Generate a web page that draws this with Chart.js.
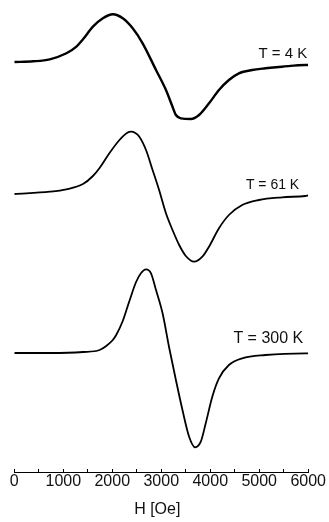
<!DOCTYPE html>
<html>
<head>
<meta charset="utf-8">
<script src="https://cdn.jsdelivr.net/npm/chart.js@4/dist/chart.umd.min.js"></script>
<style>
  html, body { margin: 0; padding: 0; background: #ffffff; }
  #wrap { position: relative; width: 329px; height: 522px; }
</style>
</head>
<body>
<div id="wrap"><canvas id="c" width="329" height="522"></canvas></div>
<script>
// Magnetic field H [Oe] and EPR derivative signal (arbitrary units) for three temperatures
const h4 = [0, 386, 725, 1064, 1268, 1402, 1605, 1808, 2011, 2214, 2417, 2620, 2893, 3096, 3230, 3299, 3400, 3604, 3772, 3975, 4178, 4381, 4585, 4855, 5127, 5464, 5939, 6000];
const s4 = [0, 0.7, 2.7, 8.7, 15.3, 22.7, 35.3, 43.7, 47.7, 43.7, 33.7, 18.7, -8, -28, -44.7, -53, -56.3, -57, -53, -41.3, -28, -18, -11.3, -8, -6.3, -4.7, -3, -3];

const h61 = [0, 725, 1064, 1402, 1605, 1741, 1944, 2147, 2300, 2385, 2470, 2553, 2689, 2823, 2956, 3096, 3230, 3366, 3502, 3671, 3839, 3975, 4178, 4381, 4652, 4990, 5464, 5939, 6000];
const s61 = [0, 2.3, 4.7, 10, 18, 26, 41, 54, 61, 62.3, 61, 57.3, 44, 24, 4, -19.3, -36, -51, -62, -67.7, -62.7, -52.7, -34.3, -21, -11, -6, -3.3, -2, -1.5];

const h300 = [0, 725, 1402, 1741, 1877, 2011, 2080, 2214, 2350, 2486, 2588, 2689, 2791, 2893, 3027, 3163, 3299, 3433, 3569, 3691, 3807, 3908, 4042, 4178, 4381, 4652, 5127, 5939, 6000];
const s300 = [0, 0, 1, 3, 7, 13, 18, 32, 52, 71, 80, 83.7, 79.7, 63, 39.7, 5, -27, -57, -83.7, -94.3, -88.7, -70.3, -43.7, -25.3, -12, -5.3, -2, -0.3, -0.3];

// vertical stacking offsets (a.u.) and labels
const seriesLabels = ['T = 4 K', 'T = 61 K', 'T = 300 K'];
const offsets = [410, 278, 119];
const xTicks = [0, 1000, 2000, 3000, 4000, 5000, 6000];
const xTitle = 'H [Oe]';

function pts(h, s, off) { return h.map((x, i) => ({ x: x, y: s[i] + off })); }

const FONT = '"Liberation Sans", Arial, sans-serif';
const dsBase = { borderColor: '#000', backgroundColor: '#000', pointRadius: 0, fill: false, cubicInterpolationMode: 'monotone' };

const labelPlugin = {
  id: 'curveLabels',
  afterDatasetsDraw(chart) {
    const ctx = chart.ctx;
    const xs = chart.scales.x, ys = chart.scales.y;
    const conf = [
      { text: seriesLabels[0], size: 15, dy: 11, dx: 1 },
      { text: seriesLabels[1], size: 14, dy: 10, dx: 9 },
      { text: seriesLabels[2], size: 16, dy: 15, dx: 5 }
    ];
    ctx.save();
    ctx.fillStyle = '#111';
    ctx.textAlign = 'right';
    ctx.textBaseline = 'middle';
    conf.forEach((c, i) => {
      ctx.font = c.size + 'px ' + FONT;
      const data = chart.data.datasets[i].data;
      const last = data[data.length - 1];
      ctx.fillText(c.text, xs.getPixelForValue(6000) - c.dx, ys.getPixelForValue(last.y) - c.dy);
    });
    // axis title
    ctx.font = '16px ' + FONT;
    ctx.textAlign = 'center';
    ctx.fillText(xTitle, (xs.left + xs.right) / 2 - 4, 510);
    ctx.restore();
  }
};

new Chart(document.getElementById('c'), {
  type: 'line',
  data: {
    datasets: [
      Object.assign({ label: seriesLabels[0], data: pts(h4, s4, offsets[0]), borderWidth: 2.4 }, dsBase),
      Object.assign({ label: seriesLabels[1], data: pts(h61, s61, offsets[1]), borderWidth: 1.8 }, dsBase),
      Object.assign({ label: seriesLabels[2], data: pts(h300, s300, offsets[2]), borderWidth: 1.8 }, dsBase)
    ]
  },
  options: {
    responsive: false,
    animation: false,
    devicePixelRatio: 1,
    layout: { padding: { left: 14.3, right: 19.3, top: 0, bottom: 0 } },
    plugins: { legend: { display: false }, tooltip: { enabled: false } },
    scales: {
      x: {
        type: 'linear',
        min: 0, max: 6000,
        afterFit(scale) { scale.height = 50; },
        border: { display: true, color: '#000', width: 1 },
        grid: { drawOnChartArea: false, drawTicks: true, tickLength: -3, tickColor: '#000' },
        ticks: {
          stepSize: 500,
          autoSkip: false,
          maxRotation: 0,
          padding: 3,
          color: '#111',
          font: { family: FONT, size: 16 },
          callback: (v) => xTicks.includes(v) ? String(v) : ''
        },
        title: { display: false }
      },
      y: {
        type: 'linear',
        display: false,
        min: 0, max: 472
      }
    }
  },
  plugins: [labelPlugin]
});
</script>
</body>
</html>
